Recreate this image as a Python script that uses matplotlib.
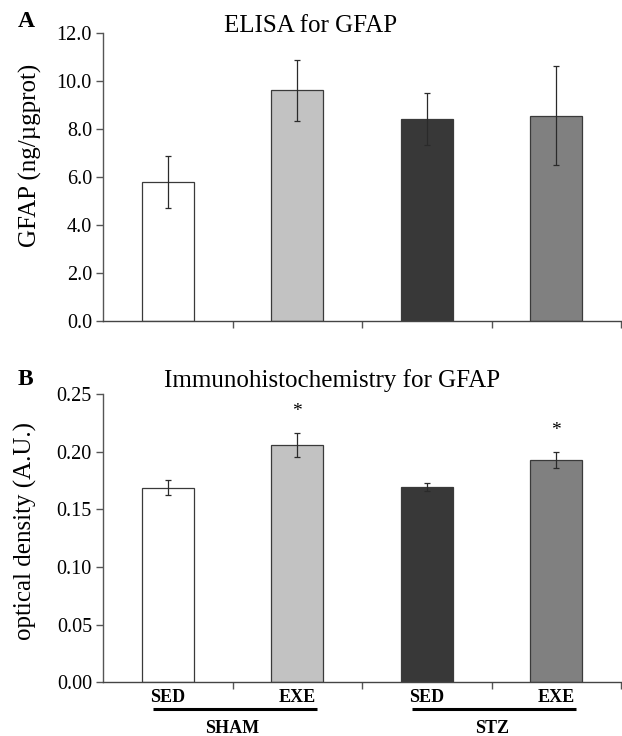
import numpy as np
import matplotlib.pyplot as plt
from matplotlib import transforms

plt.rcParams['font.family'] = ['Liberation Serif', 'DejaVu Serif']

groups = ["SHAM", "STZ"]
conditions = ["SED", "EXE", "SED", "EXE"]
colors = ["#ffffff", "#c2c2c2", "#383838", "#808080"]

# ELISA (ng/ug protein)
elisa_mean = [5.8, 9.62, 8.42, 8.55]
elisa_err = [1.08, 1.27, 1.07, 2.07]

# immunohistochemistry optical density (A.U.)
ihc_mean = [0.1685, 0.206, 0.169, 0.193]
ihc_err = [0.0065, 0.0105, 0.0035, 0.0068]
ihc_signif = [False, True, False, True]

x = np.arange(len(conditions))
fig = plt.figure(figsize=(6.22, 7.36), dpi=100)
axA = fig.add_axes([0.1656, 0.5639, 0.833, 0.3913])
axB = fig.add_axes([0.1656, 0.0730, 0.833, 0.3917])

def draw_panel(ax, mean, err, ylim, yticks, fmt):
    ax.bar(x, mean, width=0.4, color=colors, edgecolor="#3a3a3a", linewidth=0.9, zorder=2)
    ax.errorbar(x, mean, yerr=err, fmt="none", ecolor="#2a2a2a", elinewidth=0.9,
                capsize=2.5, capthick=0.9, zorder=3)
    ax.set_xlim(-0.5, 3.5)
    ax.set_ylim(*ylim)
    ax.set_yticks(yticks)
    ax.set_yticklabels([fmt % v for v in yticks])
    ax.set_xticks([0.5, 1.5, 2.5, 3.5])
    ax.set_xticklabels([])
    for s in ["top", "right"]:
        ax.spines[s].set_visible(False)
    ax.spines["left"].set_color("#555555")
    ax.spines["bottom"].set_color("#444444")
    ax.spines["left"].set_linewidth(1.0)
    ax.spines["bottom"].set_linewidth(1.0)
    ax.tick_params(axis="y", length=5, width=1.0, color="#555555", labelsize=14.5, pad=3)
    ax.tick_params(axis="x", length=5, width=1.0, color="#555555")

draw_panel(axA, elisa_mean, elisa_err, (0, 12), np.arange(0, 12.1, 2.0), "%.1f")
axA.set_ylabel("GFAP (ng/\u00b5gprot)", fontsize=18)
axA.yaxis.set_label_coords(-0.118, 0.576)
fig.text(0.5, 0.9565, "ELISA for GFAP", fontsize=18, ha="center", va="baseline")
fig.text(0.029, 0.971, "A", fontsize=17, fontweight="bold", va="center")

draw_panel(axB, ihc_mean, ihc_err, (0, 0.25), np.arange(0, 0.251, 0.05), "%.2f")
axB.set_ylabel("optical density (A.U.)", fontsize=18)
axB.yaxis.set_label_coords(-0.127, 0.525)
fig.text(0.534, 0.4742, "Immunohistochemistry for GFAP", fontsize=18, ha="center", va="baseline")
fig.text(0.029, 0.4837, "B", fontsize=17, fontweight="bold", va="center")

for xi, m, e, s in zip(x, ihc_mean, ihc_err, ihc_signif):
    if s:
        axB.text(xi, m + e + 0.011, "*", ha="center", va="bottom", fontsize=14)

# condition labels, group underlines and group names below panel B
trans = transforms.blended_transform_factory(axB.transData, axB.transAxes)
for xi, c in zip(x, conditions):
    axB.text(xi, -0.024, c, transform=trans, ha="center", va="top",
             fontsize=13, fontweight="bold", clip_on=False)
for gi, g in enumerate(groups):
    c = 2 * gi + 0.5
    axB.plot([c - 0.615, c + 0.654], [-0.094, -0.094], transform=trans,
             color="black", lw=2.2, clip_on=False, solid_capstyle="butt")
    axB.text(c, -0.132, g, transform=trans, ha="center", va="top",
             fontsize=13, fontweight="bold", clip_on=False)

fig.savefig("out.png", dpi=100)
